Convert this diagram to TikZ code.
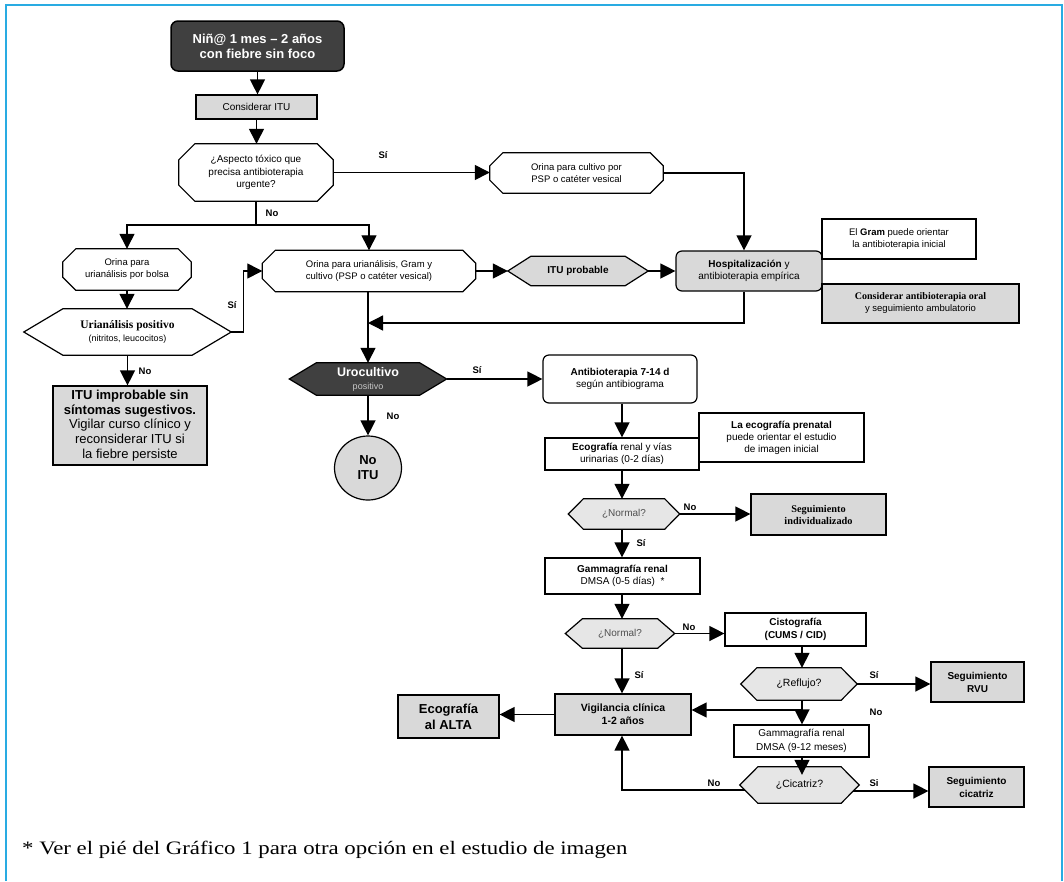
\documentclass[tikz,border=0pt]{standalone}
\usepackage{fontspec}
\setmainfont{Liberation Sans}
\newfontfamily\serifrm{Liberation Serif}
\usetikzlibrary{arrows.meta,calc,shapes.geometric}
\pgfdeclarelayer{bg}
\pgfsetlayers{bg,main}
\definecolor{framecol}{HTML}{29ABE2}
\definecolor{boxgray}{HTML}{D9D9D9}
\definecolor{darkfill}{HTML}{404040}
\definecolor{lightfill}{HTML}{E6E6E6}
\definecolor{postext}{HTML}{C8C8C8}
\definecolor{normtext}{HTML}{505050}
\tikzset{
  conn/.style={line width=1.3pt, -{Triangle[length=15pt,width=15pt]}},
  plainline/.style={line width=1.3pt},
  box/.style={draw, line width=1.2pt, rectangle, inner sep=0pt, align=center},
  gbox/.style={box, fill=boxgray},
  shp/.style={rectangle, inner sep=0pt, align=center},
  outl/.style={draw, line width=1.2pt},
  lbl/.style={font=\fontsize{9.5}{11}\selectfont\bfseries, inner sep=0pt},
  tten/.style={font=\fontsize{10}{12}\selectfont},
  tnine/.style={font=\fontsize{9.5}{12}\selectfont},
}
\newcommand\octagonOf[3]{%
  \draw[outl, fill=#3] ($(#1.north west)+(#2pt,0pt)$) -- ($(#1.north east)+(-#2pt,0pt)$)
   -- ($(#1.north east)+(0pt,-#2pt)$) -- ($(#1.south east)+(0pt,#2pt)$)
   -- ($(#1.south east)+(-#2pt,0pt)$) -- ($(#1.south west)+(#2pt,0pt)$)
   -- ($(#1.south west)+(0pt,#2pt)$) -- ($(#1.north west)+(0pt,-#2pt)$) -- cycle;}
\newcommand\hexagonOf[3]{%
  \draw[outl, fill=#3] ($(#1.north west)+(#2pt,0pt)$) -- ($(#1.north east)+(-#2pt,0pt)$)
   -- (#1.east) -- ($(#1.south east)+(-#2pt,0pt)$) -- ($(#1.south west)+(#2pt,0pt)$)
   -- (#1.west) -- cycle;}
\begin{document}
\begin{tikzpicture}[x=1pt,y=-1pt]
\useasboundingbox (0,0) rectangle (1064,881);
\begin{pgfonlayer}{bg}
\fill[white] (0,0) rectangle (1064,881);
\end{pgfonlayer}
\draw[framecol, line width=2pt] (6,881) -- (6,5) -- (1062,5) -- (1062,881);

% nodes
\node[box, fill=darkfill, rounded corners=7pt, minimum width=173pt, minimum height=50pt, text=white,
  font=\fontsize{13}{15}\selectfont\bfseries, line width=1.5pt] (start) at (257.5,46) {Niñ@ 1 mes – 2 años\\con fiebre sin foco};
\node[gbox, minimum width=121pt, minimum height=24pt, tten] (consid) at (256.5,107) {Considerar ITU};
\node[shp, minimum width=154pt, minimum height=57pt, font=\fontsize{10}{12.3}\selectfont] (q1) at (256,172.5) {¿Aspecto tóxico que\\precisa antibioterapia\\urgente?};
\node[shp, minimum width=173pt, minimum height=40pt, tnine] (ocult) at (576.5,173) {Orina para cultivo por\\PSP o catéter vesical};
\node[shp, minimum width=128pt, minimum height=41pt, tnine] (obolsa) at (127,269.5) {Orina para\\urianálisis por bolsa};
\node[shp, minimum width=213pt, minimum height=41pt, tnine] (ouri) at (369,271) {Orina para urianálisis, Gram y\\cultivo (PSP o catéter vesical)};
\node[shp, minimum width=140pt, minimum height=29pt, font=\fontsize{10}{12}\selectfont\bfseries] (itup) at (578,271) {ITU probable};
\node[gbox, rounded corners=6pt, minimum width=146pt, minimum height=40pt, tten] (hosp) at (749,271) {\textbf{Hospitalización} y\\antibioterapia empírica};
\node[box, fill=white, minimum width=154pt, minimum height=40pt, tnine] (gram) at (899,239) {El \textbf{Gram} puede orientar\\la antibioterapia inicial};
\node[gbox, minimum width=197pt, minimum height=39pt, tnine] (cao) at (920.5,303.5) {{\serifrm\bfseries\fontsize{10}{12}\selectfont Considerar antibioterapia oral}\\y seguimiento ambulatorio};
\node[shp, minimum width=207pt, minimum height=46pt, font=\fontsize{9}{13}\selectfont] (uripos) at (127.5,332) {{\serifrm\bfseries\fontsize{11.5}{13}\selectfont Urianálisis positivo}\\(nitritos, leucocitos)};
\node[gbox, minimum width=154pt, minimum height=79pt, font=\fontsize{13}{14.8}\selectfont] (improb) at (130,425.5) {\textbf{ITU improbable sin}\\\textbf{síntomas sugestivos.}\\Vigilar curso clínico y\\reconsiderar ITU si\\la fiebre persiste};
\node[shp, minimum width=157pt, minimum height=32pt, font=\fontsize{9}{13}\selectfont] (uro) at (368,379) {{\fontsize{12.5}{13}\selectfont\bfseries\color{white}Urocultivo}\\{\color{postext}positivo}};
\node[ellipse, draw, line width=1.2pt, fill=boxgray, minimum width=67pt, minimum height=64pt, inner sep=0pt, align=center,
  font=\fontsize{13}{15}\selectfont\bfseries] (noitu) at (368,468) {No\\ITU};
\node[box, rounded corners=6pt, minimum width=154pt, minimum height=48pt, tten] (anti) at (620,379) {\textbf{Antibioterapia 7-14 d}\\según antibiograma};
\node[box, minimum width=154pt, minimum height=32pt, tten] (eco) at (622,454) {\textbf{Ecografía} renal y vías\\urinarias (0-2 días)};
\node[box, minimum width=165pt, minimum height=49pt, tten] (ecopre) at (781.5,437.5) {\textbf{La ecografía prenatal}\\puede orientar el estudio\\de imagen inicial};
\node[shp, minimum width=111pt, minimum height=30pt, tten, text=normtext] (norm1) at (624,514) {¿Normal?};
\node[gbox, minimum width=135pt, minimum height=41pt, font=\serifrm\bfseries\fontsize{10.3}{12}\selectfont] (segind) at (818.5,514.5) {Seguimiento\\individualizado};
\node[box, minimum width=155pt, minimum height=36pt, tten] (gam1) at (622.5,576) {\textbf{Gammagrafía renal}\\DMSA (0-5 días)\ \ *};
\node[shp, minimum width=109pt, minimum height=29pt, tten, text=normtext] (norm2) at (620,633.5) {¿Normal?};
\node[box, minimum width=141pt, minimum height=33pt, font=\fontsize{10}{12.5}\selectfont\bfseries] (cist) at (795.5,629.5) {Cistografía\\(CUMS / CID)};
\node[shp, minimum width=116pt, minimum height=32pt, font=\fontsize{10.5}{12}\selectfont] (refl) at (799,684) {¿Reflujo?};
\node[gbox, minimum width=93pt, minimum height=40pt, font=\fontsize{10}{13}\selectfont\bfseries] (segrvu) at (977.5,682) {Seguimiento\\RVU};
\node[gbox, minimum width=136pt, minimum height=41pt, font=\fontsize{10.5}{13}\selectfont\bfseries] (vig) at (623,714.5) {Vigilancia clínica\\1-2 años};
\node[gbox, minimum width=101pt, minimum height=43pt, font=\fontsize{13}{16}\selectfont\bfseries] (ecoalta) at (448.5,716.5) {Ecografía\\al ALTA};
\node[box, minimum width=135pt, minimum height=32pt, font=\fontsize{10}{13.5}\selectfont] (gam2) at (801.5,741) {Gammagrafía renal\\DMSA (9-12 meses)};
\node[shp, minimum width=119pt, minimum height=36pt, font=\fontsize{10.5}{12}\selectfont] (cic) at (799.5,785) {¿Cicatriz?};
\node[gbox, minimum width=95pt, minimum height=40pt, font=\fontsize{10}{13}\selectfont\bfseries] (segcic) at (976.5,787) {Seguimiento\\cicatriz};

\node[anchor=west, inner sep=0pt, font=\serifrm\fontsize{19}{22}\selectfont] (foot) at (22,850) {\scalebox{1.2}[1]{* Ver el pié del Gráfico 1 para otra opción en el estudio de imagen}};

% shape outlines
\begin{pgfonlayer}{bg}
\octagonOf{q1}{16}{white}
\octagonOf{ocult}{13}{white}
\octagonOf{obolsa}{13}{white}
\octagonOf{ouri}{13}{white}
\hexagonOf{itup}{23}{boxgray}
\hexagonOf{uripos}{39}{white}
\hexagonOf{uro}{27}{darkfill}
\hexagonOf{norm1}{15}{lightfill}
\hexagonOf{norm2}{17}{lightfill}
\hexagonOf{refl}{16}{lightfill}
\hexagonOf{cic}{18}{lightfill}
\end{pgfonlayer}

% helper coordinates
\coordinate (split) at (256,225);
\coordinate (hx) at (744,0);
\coordinate (j1) at (368,323);
\coordinate (col) at (622,0);
\coordinate (colB) at (802,0);
\coordinate (j2) at (802,710);
\coordinate (cicL) at ($(cic.west)+(5pt,-5pt)$);
\coordinate (cicR) at ($(cic.east)+(-6pt,-6pt)$);
\coordinate (cicTop) at ($(cic.north -| colB)+(0pt,-8pt)$);

% connectors
\draw[conn] (start.south) -- (start.south |- consid.north);
\draw[conn] (consid.south) -- (consid.south |- q1.north);
\draw[conn] (q1.east) -- (q1.east -| ocult.west);
\draw[plainline] (q1.south) -- (split);
\draw[conn] (split) -| (obolsa.north);
\draw[conn] (split) -| (ouri.north);
\draw[conn] (obolsa.south) -- (obolsa.south |- uripos.north);
\draw[conn] (uripos.east) -- ++(12,0) |- (ouri.west);
\draw[conn] (uripos.south) -- (uripos.south |- improb.north);
\draw[conn] (ouri.east) -- (itup.west);
\draw[conn] (itup.east) -- (hosp.west);
\draw[conn] (ocult.east) -| (hosp.north -| hx);
\draw[conn] (hosp.south -| hx) |- (j1);
\draw[conn] (uro.north |- ouri.south) -- (uro.north);
\draw[conn] (uro.east) -- (uro.east -| anti.west);
\draw[conn] (uro.south) -- (noitu.north);
\draw[conn] (anti.south -| col) -- (eco.north -| col);
\draw[conn] (eco.south -| col) -- (norm1.north -| col);
\draw[conn] (norm1.east) -- (norm1.east -| segind.west);
\draw[conn] (norm1.south -| col) -- (gam1.north -| col);
\draw[conn] (gam1.south -| col) -- (norm2.north -| col);
\draw[conn] (norm2.east) -- (norm2.east -| cist.west);
\draw[conn] (norm2.south -| col) -- (vig.north -| col);
\draw[conn] (cist.south -| colB) -- (refl.north -| colB);
\draw[conn] (refl.east) -- (refl.east -| segrvu.west);
\draw[conn] (refl.south -| colB) -- (gam2.north -| colB);
\draw[conn] (j2) -- (j2 -| vig.east);
\draw[conn] (vig.west) -- (vig.west -| ecoalta.east);
\draw[conn] (gam2.south -| colB) -- (cicTop);
\draw[conn] (cicL) -| (vig.south -| col);
\draw[conn] (cicR) -- (cicR -| segcic.west);

% labels
\node[lbl] (l1) at (383,155) {Sí};
\node[lbl] (l2) at (272,213) {No};
\node[lbl] (l3) at (232,305) {Sí};
\node[lbl] (l4) at (145,371) {No};
\node[lbl] (l5) at (477,370) {Sí};
\node[lbl] (l6) at (393,416) {No};
\node[lbl] (l7) at (690,507) {No};
\node[lbl] (l8) at (641,543) {Sí};
\node[lbl] (l9) at (689,627) {No};
\node[lbl] (l10) at (639,675) {Sí};
\node[lbl] (l11) at (874,675) {Sí};
\node[lbl] (l12) at (876,712) {No};
\node[lbl] (l13) at (714,783) {No};
\node[lbl] (l14) at (874,783) {Si};
\end{tikzpicture}
\end{document}
